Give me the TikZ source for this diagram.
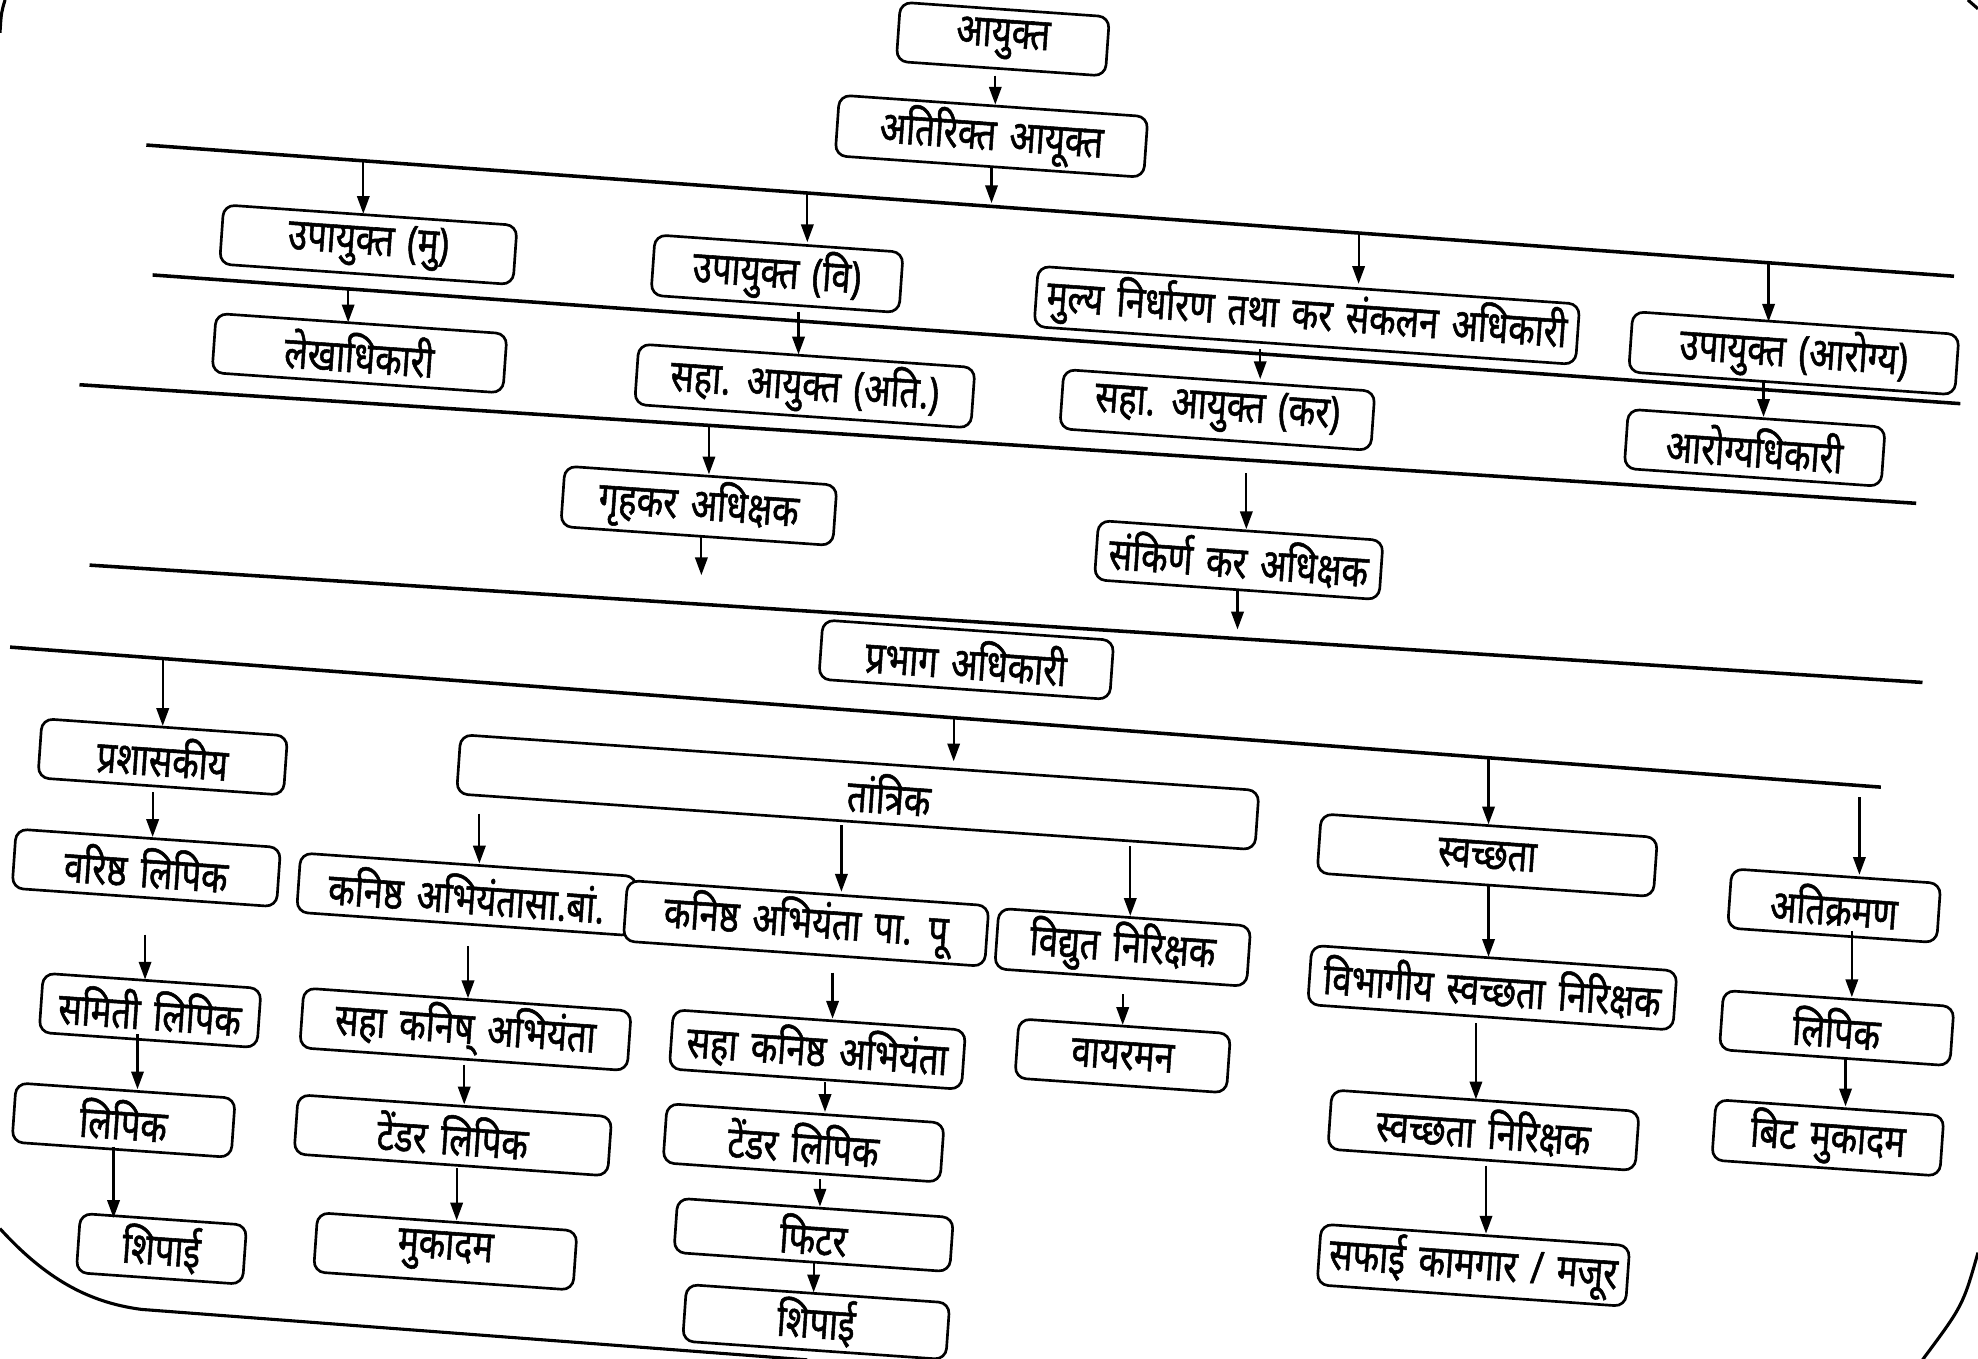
\documentclass[tikz,border=0pt]{standalone}
\usepackage{fontspec}
\newfontfamily\dev[Script=Devanagari, FakeStretch=0.78, FakeBold=1.2, WordSpace=1.5]{Noto Sans}
\usetikzlibrary{arrows.meta}

\tikzset{
  box/.style={draw, rounded corners=2.5pt, line width=0.6pt, fill=white, rotate=-4,
    minimum height=0.47cm, inner sep=1pt, font=\fontsize{10pt}{11pt}\dev},
  bus/.style={line width=0.8pt},
  arr/.style={line width=0.5pt, -{Triangle[length=4pt,width=2.8pt]}},
  rim/.style={line width=0.7pt}
}

\begin{document}
\begin{tikzpicture}[x=0.01cm, y=-0.01cm]
\useasboundingbox (0,0) rectangle (1568,1077);
\clip (0,0) rectangle (1568,1077);

% page rim
\draw[rim] (4,0) .. controls (1,10) .. (0,26);
\draw[rim] (1560,0) -- (1568,7);
\draw[rim] (0,974) .. controls (40,1018) and (75,1033) .. (112,1038) -- (640,1078);
\draw[rim] (1568,993) .. controls (1556,1035) .. (1524,1078);

% top
\node[box, minimum width=1.66cm] (ayukta) at (795,31) {आयुक्त};
\node[box, minimum width=2.45cm] (atirikta) at (786,108) {अतिरिक्त आयूक्त};

\node[box, minimum width=2.33cm] (upamu) at (292,194) {उपायुक्त (मु)};
\node[box, minimum width=1.97cm] (upavi) at (616,217) {उपायुक्त (वि)};
\node[box, minimum width=4.30cm] (mulya) at (1036,250) {मुल्य निर्धारण तथा कर संकलन अधिकारी};
\node[box, minimum width=2.59cm] (upaaro) at (1422,280) {उपायुक्त (आरोग्य)};

\node[box, minimum width=2.31cm] (lekha) at (285,280) {लेखाधिकारी};
\node[box, minimum width=2.67cm] (sahaati) at (638,306) {सहा. आयुक्त (अति.)};
\node[box, minimum width=2.47cm] (sahakar) at (965,325) {सहा. आयुक्त (कर)};
\node[box, minimum width=2.04cm] (arogya) at (1391,355) {आरोग्यधिकारी};

\node[box, minimum width=2.16cm] (gruha) at (554,401) {गृहकर अधिक्षक};
\node[box, minimum width=2.26cm] (sankirna) at (982,444) {संकिर्ण कर अधिक्षक};
\node[box, minimum width=2.31cm] (prabhag) at (766,523) {प्रभाग अधिकारी};

% wards
\node[box, minimum width=1.95cm] (prasha) at (129,600) {प्रशासकीय};
\node[box, minimum width=6.34cm] (tantrik) at (680,628) {\hspace*{0.5cm}तांत्रिक};
\node[box, minimum width=2.67cm] (swach) at (1179,678) {स्वच्छता};
\node[box, minimum width=1.66cm] (atikr) at (1454,718) {अतिक्रमण};

\node[box, minimum width=2.10cm] (varishtha) at (116,688) {वरिष्ठ लिपिक};
\node[box, minimum width=2.67cm] (knsb) at (370,709) {कनिष्ठ अभियंतासा.बां.};
\node[box, minimum width=2.87cm] (knpp) at (639,732) {कनिष्ठ अभियंता पा. पू};
\node[box, minimum width=2.00cm] (vidyut) at (890,751) {विद्युत निरिक्षक};
\node[box, minimum width=2.90cm] (vibhag) at (1183,783) {विभागीय स्वच्छता निरिक्षक};
\node[box, minimum width=1.83cm] (lipikr) at (1456,815) {लिपिक};

\node[box, minimum width=1.73cm] (samiti) at (119,801) {समिती लिपिक};
\node[box, minimum width=2.60cm] (sknsb) at (369,816) {सहा कनिष् अभियंता};
\node[box, minimum width=2.32cm] (sknpp) at (648,832) {सहा कनिष्ठ अभियंता};
\node[box, minimum width=1.68cm] (wireman) at (890,837) {वायरमन};
\node[box, minimum width=2.44cm] (swnir) at (1176,896) {स्वच्छता निरिक्षक};
\node[box, minimum width=1.81cm] (bit) at (1449,902) {बिट मुकादम};

\node[box, minimum width=1.74cm] (lipikl) at (98,888) {लिपिक};
\node[box, minimum width=2.49cm] (tendb) at (359,900) {टेंडर लिपिक};
\node[box, minimum width=2.20cm] (tendp) at (637,906) {टेंडर लिपिक};

\node[box, minimum width=1.32cm] (shipl) at (128,990) {शिपाई};
\node[box, minimum width=2.06cm] (mukadam) at (353,992) {मुकादम};
\node[box, minimum width=2.19cm, minimum height=0.43cm] (fitter) at (645,979) {फिटर};
\node[box, minimum width=2.09cm, minimum height=0.45cm] (shipp) at (647,1048) {शिपाई};
\node[box, minimum width=2.45cm] (safai) at (1168,1003) {सफाई कामगार / मजूर};

% bus lines
\draw[bus] (116,115) -- (1549,219);
\draw[bus] (121,218) -- (1554,320);
\draw[bus] (63,305) -- (1519,399);
\draw[bus] (71,448) -- (1524,541);
\draw[bus] (8,513) -- (1491,624);

% arrows
\foreach \t/\x/\y in {atirikta/789/60, upamu/288/128, upavi/640/153, mulya/1077/185,
    upaaro/1402/209, lekha/276/229, sahaati/633/247, sahakar/999/277, arogya/1398/301,
    gruha/562/338, sankirna/988/375, prasha/129/522, tantrik/756/569, swach/1180/602,
    atikr/1474/632, varishtha/121/628, knsb/380/645, knpp/667/654, vidyut/896/671,
    samiti/115/741, sknsb/371/750, sknpp/660/771, wireman/890/788, vibhag/1180/701,
    lipikr/1468/738, lipikl/109/820, tendb/368/844, tendp/654/858, swnir/1170/811,
    bit/1463/839, shipl/90/909, mukadam/362/926, fitter/650/935, shipp/645/1001,
    safai/1178/924}{
  \coordinate (s-\t) at (\x,\y);
  \draw[arr] (s-\t) -- (s-\t |- \t.north);
}
\coordinate (atir-out) at (786,161);
\coordinate (gruha-out) at (556,456);
\coordinate (sank-out) at (981,499);
\draw[arr] (atirikta.south -| atir-out) -- (atir-out);
\draw[arr] (gruha.south -| gruha-out) -- (gruha-out);
\draw[arr] (sankirna.south -| sank-out) -- (sank-out);
\end{tikzpicture}
\end{document}
